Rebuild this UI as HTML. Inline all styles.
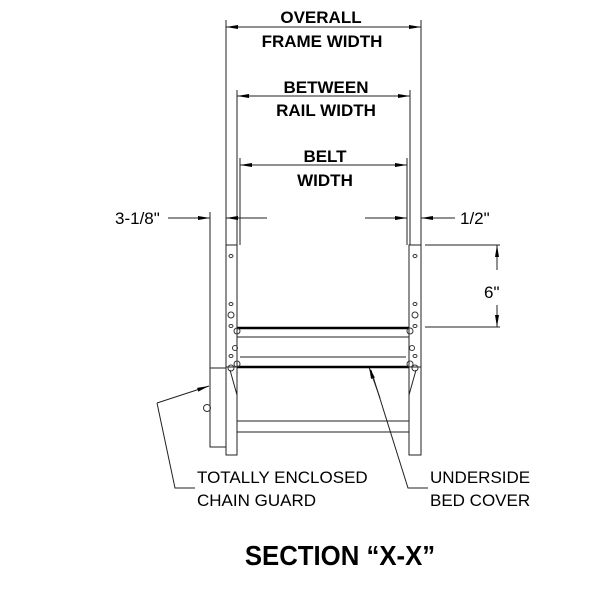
<!DOCTYPE html><html><head><style>body{margin:0;background:#fff}</style></head><body>
<svg width="600" height="600" viewBox="0 0 600 600" xmlns="http://www.w3.org/2000/svg" font-family="Liberation Sans, sans-serif">
<defs><marker id="a" markerWidth="12" markerHeight="6" refX="12" refY="3" orient="auto" markerUnits="userSpaceOnUse"><path d="M0,1 L12,3 L0,5z" fill="#000"/></marker></defs>
<g stroke="#222" stroke-width="1" fill="none">
<line x1="226" y1="20" x2="226" y2="245"/><line x1="421" y1="20" x2="421" y2="245"/>
<line x1="237" y1="90" x2="237" y2="245"/><line x1="410" y1="90" x2="410" y2="245"/>
<line x1="240" y1="158" x2="240" y2="245"/><line x1="407" y1="158" x2="407" y2="245"/>
<line x1="210" y1="212" x2="210" y2="368"/>
<line x1="226" y1="27" x2="421" y2="27"/>
<line x1="237" y1="96" x2="410" y2="96"/><line x1="240" y1="165" x2="407" y2="165"/>
<line x1="168" y1="218" x2="210" y2="218" marker-end="url(#a)"/>
<line x1="267" y1="218" x2="226" y2="218" marker-end="url(#a)"/>
<line x1="365" y1="218" x2="407" y2="218" marker-end="url(#a)"/>
<line x1="455" y1="218" x2="421" y2="218" marker-end="url(#a)"/>
<line x1="425" y1="245" x2="500" y2="245"/><line x1="425" y1="327" x2="500" y2="327"/>
<line x1="497" y1="270" x2="497" y2="245" marker-end="url(#a)"/>
<line x1="497" y1="305" x2="497" y2="327" marker-end="url(#a)"/>
<rect x="226" y="245" width="11" height="122"/><rect x="409" y="245" width="12" height="122"/>
<rect x="226" y="367" width="11" height="88"/><rect x="409" y="367" width="12" height="88"/>
<rect x="210" y="368" width="16" height="79"/>
<rect x="237" y="421" width="172" height="11"/>
<line x1="237" y1="337" x2="409" y2="337"/><line x1="240" y1="357" x2="406" y2="357"/>
<line x1="230" y1="370" x2="237" y2="395"/><line x1="416" y1="370" x2="409" y2="395"/>
<polyline points="157,403 175,488 195,488"/><line x1="157" y1="403" x2="209" y2="386" marker-end="url(#a)"/>
<polyline points="428,488 408,488 371,370" /><line x1="380" y1="398" x2="369" y2="367" marker-end="url(#a)"/>
</g>
<g fill="#000">
<polygon points="226,27 238,25 238,29"/><polygon points="421,27 409,25 409,29"/>
<polygon points="237,96 249,94 249,98"/><polygon points="410,96 398,94 398,98"/>
<polygon points="240,165 252,163 252,167"/><polygon points="407,165 395,163 395,167"/>
</g>
<g stroke="#000" stroke-width="2.5"><line x1="237" y1="328" x2="409" y2="328"/><line x1="237" y1="367" x2="409" y2="367"/></g>
<g fill="none" stroke="#333" stroke-width="1">
<ellipse cx="231" cy="256" rx="2" ry="1.5"/><ellipse cx="231" cy="304" rx="2" ry="1.5"/><ellipse cx="231" cy="326" rx="2" ry="1.5"/><ellipse cx="231" cy="356" rx="2" ry="1.5"/>
<ellipse cx="415" cy="256" rx="2" ry="1.5"/><ellipse cx="415" cy="304" rx="2" ry="1.5"/><ellipse cx="415" cy="326" rx="2" ry="1.5"/><ellipse cx="415" cy="356" rx="2" ry="1.5"/>
<circle cx="231" cy="315" r="3"/><circle cx="237" cy="331" r="3"/><circle cx="237" cy="364" r="3"/><circle cx="235" cy="348" r="2.5"/><circle cx="231" cy="368" r="3"/>
<circle cx="415" cy="315" r="3"/><circle cx="410" cy="331" r="3"/><circle cx="410" cy="364" r="3"/><circle cx="412" cy="348" r="2.5"/><circle cx="415" cy="368" r="3"/>
<circle cx="207" cy="408" r="3.5"/>
</g>
<g font-weight="bold" font-size="17" text-anchor="middle">
<text x="321" y="23">OVERALL</text><text x="322" y="47">FRAME WIDTH</text>
<text x="326" y="93">BETWEEN</text><text x="326" y="116">RAIL WIDTH</text>
<text x="325" y="162">BELT</text><text x="325" y="186">WIDTH</text>
<text x="0" y="0" font-size="28" transform="translate(340,565) scale(0.92,1)">SECTION “X-X”</text>
</g>
<g font-size="17">
<text x="115" y="224">3-1/8"</text><text x="460" y="224">1/2"</text>
<text x="484" y="298" font-size="17">6"</text>
<text x="197" y="483">TOTALLY ENCLOSED</text><text x="197" y="506">CHAIN GUARD</text>
<text x="430" y="483">UNDERSIDE</text><text x="430" y="506">BED COVER</text>
</g>
</svg></body></html>
